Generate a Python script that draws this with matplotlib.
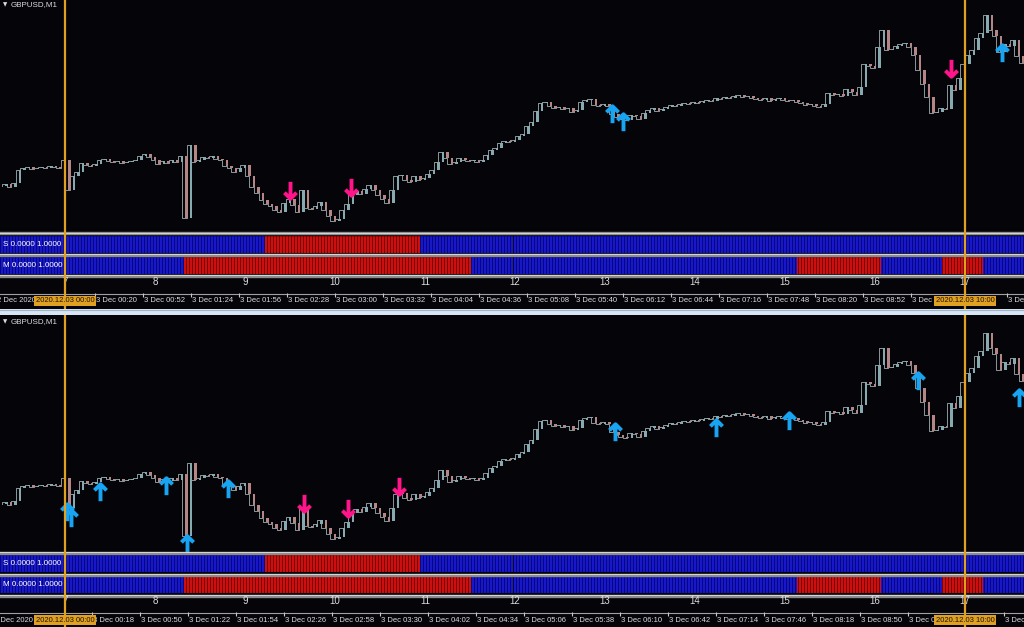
import numpy as np
import matplotlib
matplotlib.use('Agg')
import matplotlib.pyplot as plt
from matplotlib.path import Path

W, H = 1024, 627
BG = '#050409'
ORANGE = '#e0a022'
UPC, DNC = '#86aab0', '#b58686'
ARR_UP, ARR_DN = '#17a4f2', '#ff1489'
TXT = '#dcdcdc'
SMALL = ['Liberation Sans', 'DejaVu Sans']

# minutes from 3 Dec 00:00, one close every 3 minutes starting at t_start
t_start = -42
close = [
    1.33620, 1.33630, 1.33615, 1.33635, 1.33700, 1.33710, 1.33715, 1.33705, 1.33710, 1.33715,
    1.33710, 1.33720, 1.33715, 1.33710, 1.33750, 1.33600, 1.33670, 1.33690, 1.33735, 1.33725,
    1.33720, 1.33730, 1.33750, 1.33755, 1.33745, 1.33740, 1.33745, 1.33735, 1.33740, 1.33745,
    1.33750, 1.33770, 1.33780, 1.33765, 1.33750, 1.33730, 1.33745, 1.33735, 1.33750, 1.33740,
    1.33770, 1.33460, 1.33825, 1.33740, 1.33750, 1.33765, 1.33760, 1.33770, 1.33755, 1.33750,
    1.33720, 1.33710, 1.33690, 1.33710, 1.33725, 1.33670, 1.33615, 1.33585, 1.33550, 1.33530,
    1.33520, 1.33500, 1.33490, 1.33535, 1.33555, 1.33525, 1.33490, 1.33600, 1.33510, 1.33505,
    1.33520, 1.33540, 1.33500, 1.33470, 1.33445, 1.33455, 1.33500, 1.33530, 1.33575, 1.33595,
    1.33580, 1.33605, 1.33625, 1.33600, 1.33575, 1.33555, 1.33535, 1.33600, 1.33670, 1.33675,
    1.33650, 1.33640, 1.33670, 1.33650, 1.33660, 1.33680, 1.33700, 1.33740, 1.33790, 1.33760,
    1.33730, 1.33740, 1.33760, 1.33750, 1.33745, 1.33750, 1.33740, 1.33750, 1.33775, 1.33800,
    1.33810, 1.33835, 1.33845, 1.33840, 1.33850, 1.33870, 1.33880, 1.33920, 1.33940, 1.33995,
    1.34035, 1.34040, 1.34020, 1.34010, 1.34015, 1.34005, 1.34010, 1.33990, 1.34000, 1.34040,
    1.34050, 1.34055, 1.34025, 1.34020, 1.34030, 1.34020, 1.33980, 1.33965, 1.33955, 1.33950,
    1.33975, 1.33970, 1.33955, 1.33985, 1.34000, 1.34010, 1.33995, 1.34005, 1.34015, 1.34025,
    1.34020, 1.34030, 1.34035, 1.34030, 1.34040, 1.34035, 1.34045, 1.34050, 1.34045, 1.34060,
    1.34055, 1.34065, 1.34060, 1.34070, 1.34075, 1.34065, 1.34070, 1.34060, 1.34055, 1.34050,
    1.34060, 1.34045, 1.34055, 1.34060, 1.34050, 1.34045, 1.34050, 1.34040, 1.34035, 1.34025,
    1.34030, 1.34020, 1.34015, 1.34030, 1.34085, 1.34075, 1.34080, 1.34070, 1.34105, 1.34090,
    1.34075, 1.34115, 1.34230, 1.34220, 1.34210, 1.34315, 1.34400, 1.34300, 1.34305, 1.34320,
    1.34330, 1.34335, 1.34315, 1.34275, 1.34200, 1.34130, 1.34065, 1.33985, 1.33990, 1.34010,
    1.34005, 1.34125, 1.34100, 1.34160, 1.34230, 1.34275, 1.34300, 1.34360, 1.34385, 1.34475,
    1.34400, 1.34370, 1.34290, 1.34330, 1.34320, 1.34350, 1.34270, 1.34235,
]

# signal arrows (minute, price)
top_up = [(365, 1.33980), (372, 1.33940), (625, 1.34285)]
top_dn = [(150, 1.33600), (191, 1.33615), (591, 1.34210)]
bot_up = [(1, 1.33580), (4, 1.33550), (23, 1.33680), (67, 1.33710), (81, 1.33420),
          (109, 1.33695), (367, 1.33980), (434, 1.34000), (483, 1.34035),
          (569, 1.34235), (636, 1.34150)]
bot_dn = [(159, 1.33625), (189, 1.33600), (223, 1.33710)]

# red periods of the S and M strips (minutes)
s_red = [(133, 237)]
m_red = [(79, 271), (488, 544), (585, 612)]

hours = list(range(7, 18))
top_ticks = list(range(20, 640, 32))
bot_ticks = list(range(18, 640, 32))
markers_time = [(0, '2020.12.03 00:00'), (600, '2020.12.03 10:00')]

T0, T1 = -65 / 1.5, (W - 65) / 1.5

fig = plt.figure(figsize=(W / 100, H / 100), dpi=100)
fig.patch.set_facecolor(BG)


def px_axes(x, y, w, h):
    ax = fig.add_axes([x / W, 1 - (y + h) / H, w / W, h / H])
    ax.set_facecolor(BG)
    ax.set_axis_off()
    ax.set_xlim(T0, T1)
    return ax


up_path = Path([(0, -1), (0, 0.95), (-0.7, 0.25), (0, 0.95), (0.7, 0.25)],
               [Path.MOVETO, Path.LINETO, Path.MOVETO, Path.LINETO, Path.LINETO])
dn_path = Path(up_path.vertices * [1, -1], up_path.codes)


def price_panel(y0, h, ups, dns):
    ax = px_axes(0, y0, W, h)
    ax.set_ylim(1.34550 - 0.00005 * h, 1.34550)
    c = np.array(close)
    o = np.r_[c[0], c[:-1]]
    t = t_start + 3 * np.arange(len(c))
    ax.step(t, c, where='pre', color='#8a979b', lw=0.7, zorder=1)
    lo = np.minimum(o, c)
    hgt = np.maximum(np.abs(c - o), 0.00004)
    cols = [UPC if a >= b else DNC for a, b in zip(c, o)]
    ax.bar(t, hgt, bottom=lo - (hgt - np.abs(c - o)) / 2, width=1.7, color=cols, lw=0, zorder=2)
    for pts, path, col in ((ups, up_path, ARR_UP), (dns, dn_path, ARR_DN)):
        xs, ys = zip(*pts)
        ax.plot(xs, ys, ls='none', marker=path, ms=12.5, mew=2.8, mec=col, mfc='none', zorder=3)
    return ax


def strip(y0, reds, label):
    ax = px_axes(0, y0, W, 17)
    ax.set_ylim(0, 1)
    m = np.arange(np.floor(T0), np.ceil(T1) + 1)
    red = np.zeros(len(m), bool)
    for a, b in reds:
        red |= (m >= a) & (m < b)
    ax.bar(m, 1, width=1.0, align='edge', color=np.where(red, '#7a0000', '#06067e'), lw=0)
    ax.vlines(m + 0.3, 0, 1, colors=np.where(red, '#cc1010', '#1818c8'), lw=0.75)
    ax.text(3 / W, 0.5, label, transform=ax.transAxes, color='white', fontsize=5.8,
            family=SMALL, va='center', ha='left')


def separators(ys):
    for y in ys:
        pix.axhline(y, color='#8a8a8a', lw=2.4)
        pix.axhline(y - 0.5, color='#d4d4d4', lw=0.8)


for y0, h, ups, dns in ((0, 231, top_up, top_dn), (318, 233, bot_up, bot_dn)):
    price_panel(y0, h, ups, dns)

strip(236, s_red, 'S 0.0000 1.0000')
strip(257, m_red, 'M 0.0000 1.0000')
strip(555, s_red, 'S 0.0000 1.0000')
strip(576, m_red, 'M 0.0000 1.0000')

# overlay in pixel units
pix = fig.add_axes([0, 0, 1, 1])
pix.set_xlim(0, W)
pix.set_ylim(H, 0)
pix.set_axis_off()
pix.patch.set_alpha(0)
pix.set_zorder(5)
separators([233, 254.5, 275.5, 552.5, 574.5, 595.5])
pix.axhline(293.5, color='#a0a0a0', lw=0.8)
pix.axhline(612.5, color='#a0a0a0', lw=0.8)
pix.fill_between([0, W], 309, 315, color='#d8e5f2', lw=0)
pix.axhline(309.5, color='#9fb4cc', lw=0.8)
for y in (5, 322):
    pix.text(3, y, '\u25bc', color=TXT, fontsize=4, va='center', ha='left', family='DejaVu Sans')
    pix.text(11, y, 'GBPUSD,M1', color=TXT, fontsize=5.8, va='center', ha='left', family=SMALL)
pix.text(-3, 301, '2 Dec 2020', color=TXT, fontsize=5.5, va='center', ha='left', family=SMALL)
pix.text(-6, 620, '2 Dec 2020', color=TXT, fontsize=5.5, va='center', ha='left', family=SMALL)

# overlay in time units
ov = fig.add_axes([0, 0, 1, 1])
ov.set_xlim(T0, T1)
ov.set_ylim(H, 0)
ov.set_axis_off()
ov.patch.set_alpha(0)
ov.set_zorder(6)

for ticks, ly, ny in ((top_ticks, 301, 282), (bot_ticks, 620, 601)):
    for t in ticks:
        # labels hidden under the orange date box
        if any(-20 < t - mt < 10 for mt, _ in markers_time):
            continue
        ov.vlines(t, ly - 8, ly - 4, color='#c8c8c8', lw=0.8)
        ov.text(t + 0.6, ly, '3 Dec %02d:%02d' % (t // 60, t % 60), color=TXT,
                fontsize=5.5, va='center', ha='left', family=SMALL)
    for k, hr in enumerate(hours):
        ov.text(60 * k, ny, str(hr), color=TXT, fontsize=7, va='center', ha='center', family=SMALL)

for t, _ in markers_time:
    ov.vlines(t, 0, 309, color=ORANGE, lw=1.6, zorder=3)
    ov.vlines(t, 315, H, color=ORANGE, lw=1.6, zorder=3)
for ly in (301, 620):
    for t, lab in markers_time:
        ov.text(t, ly, lab, color='#1c1200', fontsize=5.5, va='center', ha='center', family=SMALL,
                zorder=4, bbox=dict(boxstyle='square,pad=0.25', fc=ORANGE, ec='none'))

fig.savefig('out.png', dpi=100, facecolor=BG)
